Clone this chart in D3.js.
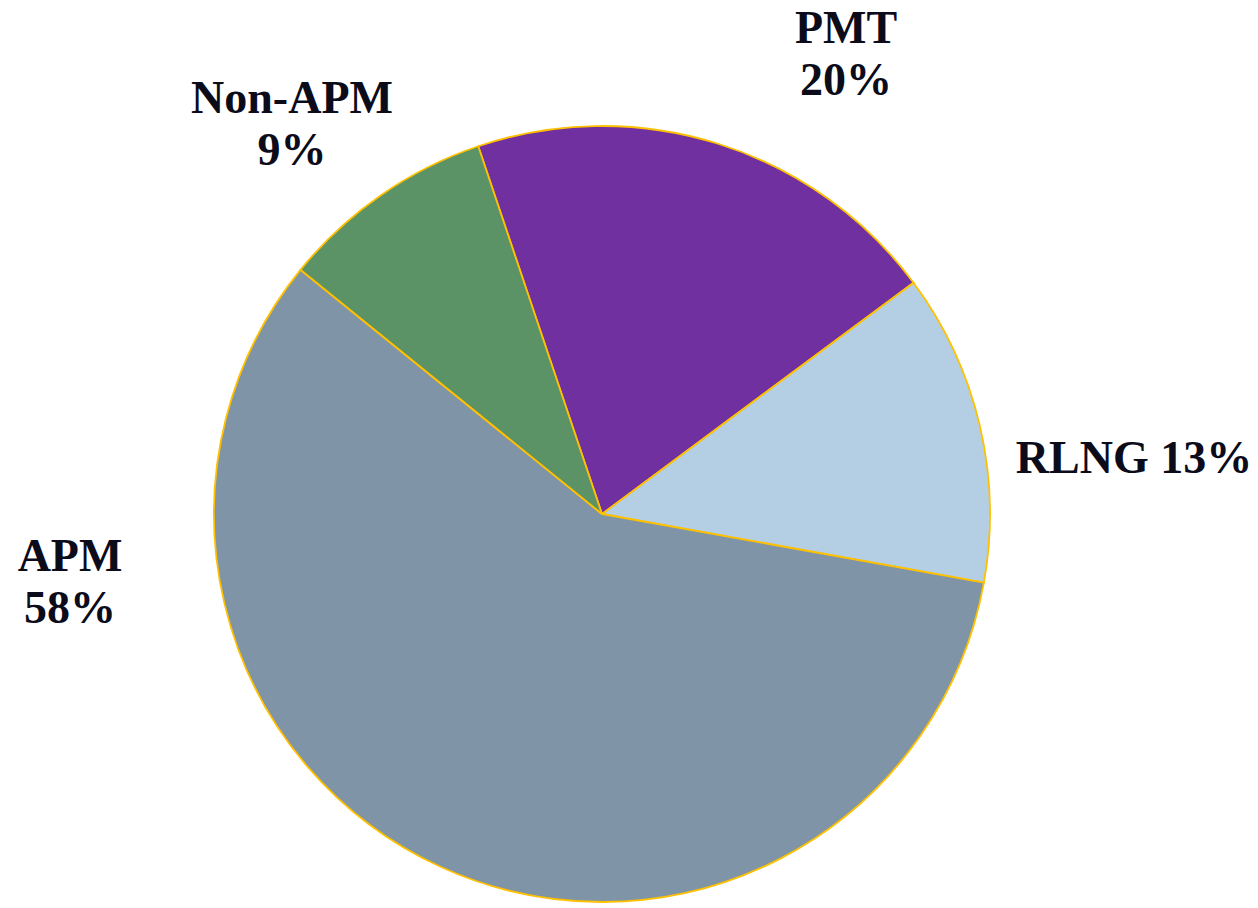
<!DOCTYPE html>
<html><head><meta charset="utf-8">
<script src="https://cdn.jsdelivr.net/npm/d3@7"></script>
<style>html,body{margin:0;padding:0;background:#fff;}</style>
</head><body>
<svg id="chart" width="1258" height="908"></svg>
<script>
const categories = ["PMT", "RLNG", "APM", "Non-APM"];
const values = [20, 13, 58, 9];
const colors = ["#7030A0", "#B4CFE4", "#7F94A6", "#5B9367"];
const labelLines = [["PMT", "20%"], ["RLNG 13%"], ["APM", "58%"], ["Non-APM", "9%"]];
const labelPos = [[846, 43], [1134, 473], [70, 571], [292, 113]];

const svg = d3.select("#chart");
const cx = 602, cy = 514, r = 388;
const startA = -18.6 * Math.PI / 180;
const data = categories.map((c, i) => ({cat: c, value: values[i], color: colors[i], lines: labelLines[i], pos: labelPos[i]}));
const pie = d3.pie().sort(null).value(d => d.value).startAngle(startA).endAngle(startA + 2 * Math.PI);
const arc = d3.arc().innerRadius(0).outerRadius(r);
const g = svg.append("g").attr("transform", `translate(${cx},${cy})`);
g.selectAll("path").data(pie(data)).join("path")
  .attr("d", arc)
  .attr("fill", d => d.data.color)
  .attr("stroke", "#FFC000")
  .attr("stroke-width", 1.8)
  .attr("stroke-linejoin", "round");

const lab = svg.append("g");
data.forEach(d => {
  const t = lab.append("text")
    .attr("x", d.pos[0]).attr("y", d.pos[1])
    .attr("text-anchor", "middle")
    .attr("font-family", "'Liberation Serif', 'DejaVu Serif', serif")
    .attr("font-weight", "bold")
    .attr("font-size", 46)
    .attr("fill", "#0B0B1A");
  d.lines.forEach((ln, i) => {
    t.append("tspan").attr("x", d.pos[0]).attr("y", d.pos[1] + i * 52).text(ln);
  });
});
</script>
</body></html>
